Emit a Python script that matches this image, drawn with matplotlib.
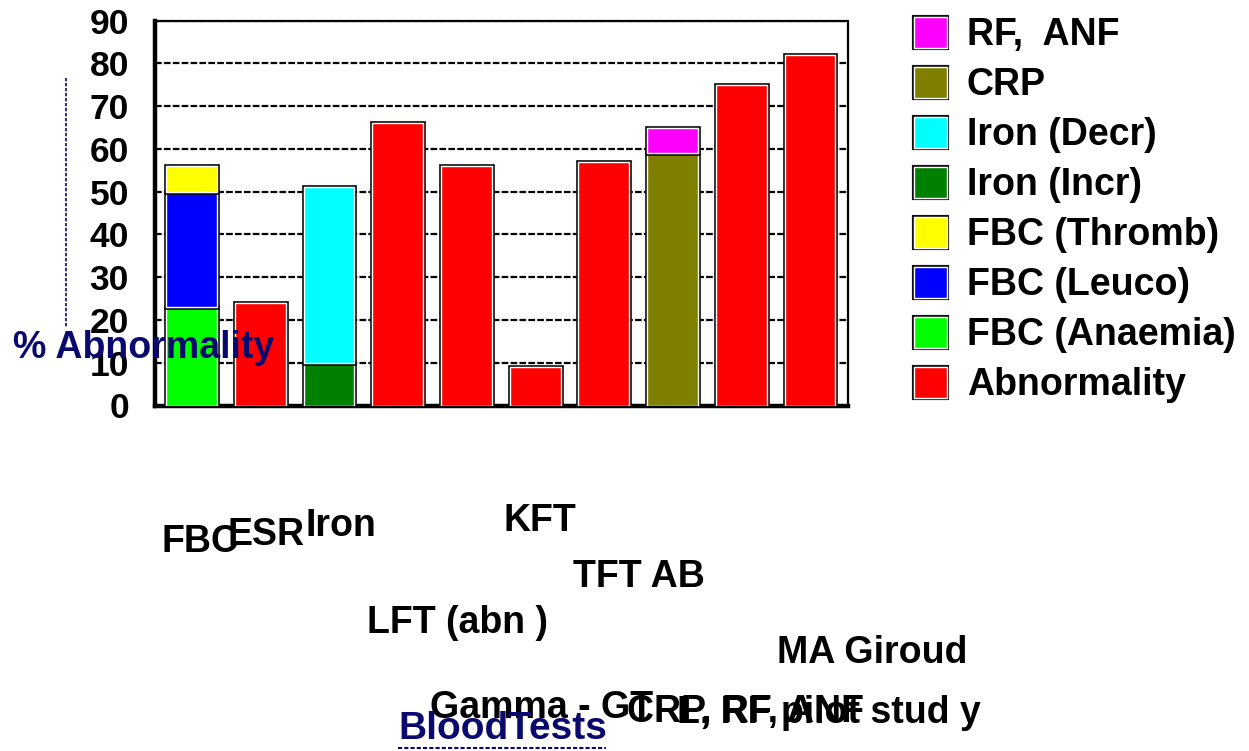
import matplotlib
matplotlib.use("Agg")
import matplotlib.pyplot as plt
import matplotlib.patheffects as pe
from matplotlib.patches import Rectangle
from matplotlib.lines import Line2D
import numpy as np

plt.rcParams["font.family"] = ["Liberation Sans", "DejaVu Sans"]
plt.rcParams["font.weight"] = "bold"

# data
tests = ["FBC", "ESR", "Iron", "LFT (abn )", "KFT", "TFT AB",
         "Gamma - GT", "CRP, RF, ANF", "MA Giroud", "L, RF pilot stud y"]
abnormality = [0, 24, 0, 66, 56, 9, 57, 0, 75, 82]
fbc_anaemia = [23, 0, 0, 0, 0, 0, 0, 0, 0, 0]
fbc_leuco = [27, 0, 0, 0, 0, 0, 0, 0, 0, 0]
fbc_thromb = [6, 0, 0, 0, 0, 0, 0, 0, 0, 0]
iron_incr = [0, 0, 10, 0, 0, 0, 0, 0, 0, 0]
iron_decr = [0, 0, 41, 0, 0, 0, 0, 0, 0, 0]
crp = [0, 0, 0, 0, 0, 0, 0, 59, 0, 0]
rf_anf = [0, 0, 0, 0, 0, 0, 0, 6, 0, 0]

# series drawn bottom -> top
series = [
    ("Abnormality", abnormality, "#ff0000"),
    ("FBC (Anaemia)", fbc_anaemia, "#00ff00"),
    ("FBC (Leuco)", fbc_leuco, "#0000ff"),
    ("FBC (Thromb)", fbc_thromb, "#ffff00"),
    ("Iron (Incr)", iron_incr, "#008000"),
    ("Iron (Decr)", iron_decr, "#00ffff"),
    ("CRP", crp, "#808000"),
    ("RF,  ANF", rf_anf, "#ff00ff"),
]

# where the category names sit (pixel x, baseline y, alignment) - scattered in the original
label_pos = [(162, 552, "left"), (228, 545, "left"), (306, 536, "left"),
             (367, 633, "left"), (503, 531, "left"), (573, 587, "left"),
             (430, 718, "left"), (627, 722, "left"), (777, 663, "left"),
             (981, 723, "right")]

W, H = 1249, 751
def fx(x):
    return x / W
def fy(y):
    return 1 - y / H

fig = plt.figure(figsize=(12.49, 7.51), dpi=100)
ax = fig.add_axes([fx(154.5), fy(405.5), fx(848) - fx(154.5), fy(20.7) - fy(405.5)])

x = np.arange(len(tests))
bottom = np.zeros(len(tests))
outline = [pe.withStroke(linewidth=3.4, foreground="#111111")]
for name, vals, col in series:
    vals = np.array(vals, dtype=float)
    m = vals > 0
    bars = ax.bar(x[m], vals[m], bottom=bottom[m], width=0.74, color=col,
                  edgecolor="white", linewidth=1.0, zorder=3)
    for b in bars:
        b.set_path_effects(outline)
    bottom += vals

ax.set_xlim(-0.541, 9.554)
ax.set_ylim(0, 90)
ax.set_yticks(range(0, 91, 10))
ax.set_xticks([])
ax.tick_params(axis="y", length=0, pad=18.4, labelsize=25.5)
for t in ax.get_yticklabels():
    t.set_fontweight("bold")

ax.set_axisbelow(True)
ax.grid(axis="y", color="black", linestyle=(0, (3, 1)), linewidth=1.6)
for s in ["left", "bottom"]:
    ax.spines[s].set_linewidth(3.2)
    ax.spines[s].set_color("black")
for s in ["top", "right"]:
    ax.spines[s].set_linewidth(1.6)
    ax.spines[s].set_linestyle((0, (3, 1)))
    ax.spines[s].set_color("black")

# scattered category names
for name, (px, py, al) in zip(tests, label_pos):
    fig.text(fx(px), fy(py), name, fontsize=27, fontweight="bold",
             ha=al, va="baseline", color="black")

# axis titles
navy = "#0a0a6e"
fig.text(fx(13), fy(358), "% Abnormality", fontsize=27, fontweight="bold",
         color=navy, ha="left", va="baseline", zorder=10)
fig.add_artist(Line2D([fx(66), fx(66)], [fy(78), fy(328)], color=navy,
                      linewidth=1.2, linestyle=(0, (2, 1))))
fig.text(fx(398), fy(739), "BloodTests", fontsize=28, fontweight="bold",
         color=navy, ha="left", va="baseline", zorder=10)
fig.add_artist(Line2D([fx(398), fx(606)], [fy(748), fy(748)], color=navy,
                      linewidth=1.5, linestyle=(0, (2, 1))))

# legend (top entry = last series)
for i, (name, vals, col) in enumerate(series[::-1]):
    top = 17 + 50 * i
    r = Rectangle((fx(914), fy(top + 31)), fx(947) - fx(914), fy(top) - fy(top + 31),
                  transform=fig.transFigure, facecolor=col, edgecolor="white",
                  linewidth=1.0)
    r.set_path_effects([pe.withStroke(linewidth=3.0, foreground="#111111")])
    fig.add_artist(r)
    fig.text(fx(967), fy(top + 28), name, fontsize=27, fontweight="bold",
             ha="left", va="baseline", color="black")

fig.savefig("out.png", dpi=100)
